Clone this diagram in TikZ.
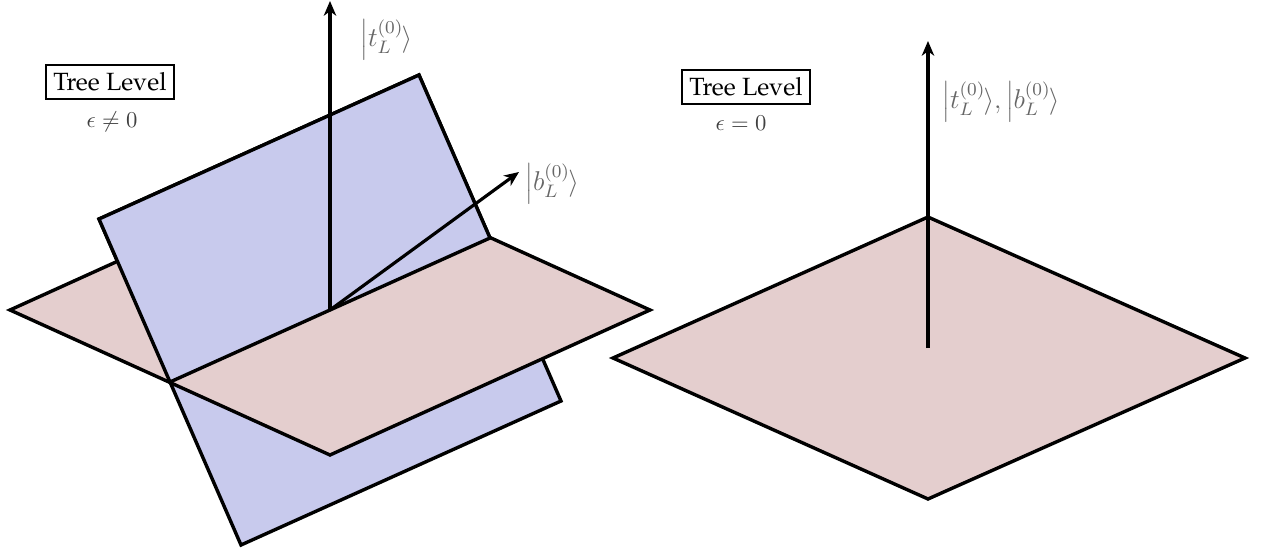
\documentclass[tikz,border=0pt]{standalone}
\usepackage[T1]{fontenc}
\usepackage{palatino}
\usetikzlibrary{arrows.meta}
\definecolor{planeblue}{RGB}{200,202,237}
\definecolor{planepink}{RGB}{228,206,206}
\newcommand{\vecket}[1]{\left|#1_L^{(0)}\right.\mkern-3mu\rangle}
\begin{document}
\begin{tikzpicture}[x=0.0155cm, y=-0.0155cm,
        plane/.style={draw, line width=1.5pt, line join=miter},
        vec/.style={->, >={Stealth[length=6.5pt, width=5.5pt, inset=2pt]}, line width=1.4pt},
        ket/.style={text=black!60, anchor=west, inner sep=0pt, font=\fontsize{11.5}{13}\selectfont},
        title/.style={draw, line width=0.9pt, inner sep=3.5pt, font=\fontsize{11}{13}\selectfont},
        cond/.style={text=black!75},
    ]
        \useasboundingbox (0,0) rectangle (1270,549);

        % epsilon != 0
        \coordinate (o1) at (330,310);
        \filldraw[plane, fill=planeblue] (99,219) -- (419,75) -- (561,401) -- (241,545) -- cycle;
        \filldraw[plane, fill=planepink] (10,310) -- (330,165) -- (650,310) -- (330,455) -- cycle;
        \filldraw[plane, fill=planeblue] (170,382) -- (99,219) -- (419,75) -- (490,238) -- cycle;
        \coordinate (t1) at (330,1);
        \coordinate (b1) at (519,172);
        \draw[vec] (o1) -- (t1);
        \draw[vec] (o1) -- (b1);
        \node[ket] (t1-lbl) at (360,40) {$\vecket{t}$};
        \node[ket] (b1-lbl) at (525,184) {$\vecket{b}$};
        \node[title] (tree1) at (110,82) {Tree Level};
        \node[cond] (eps1) at (112,122) {$\epsilon\neq0$};

        % epsilon = 0
        \coordinate (o2) at (928,348);
        \filldraw[plane, fill=planepink] (613,358) -- (928,217) -- (1245,358) -- (928,499) -- cycle;
        \coordinate (t2) at (928,41);
        \draw[vec] (o2) -- (t2);
        \node[ket] (t2-lbl) at (942,102) {$\vecket{t},\vecket{b}$};
        \node[title] (tree2) at (746,87) {Tree Level};
        \node[cond] (eps2) at (741,123) {$\epsilon=0$};
    \end{tikzpicture}
\end{document}
